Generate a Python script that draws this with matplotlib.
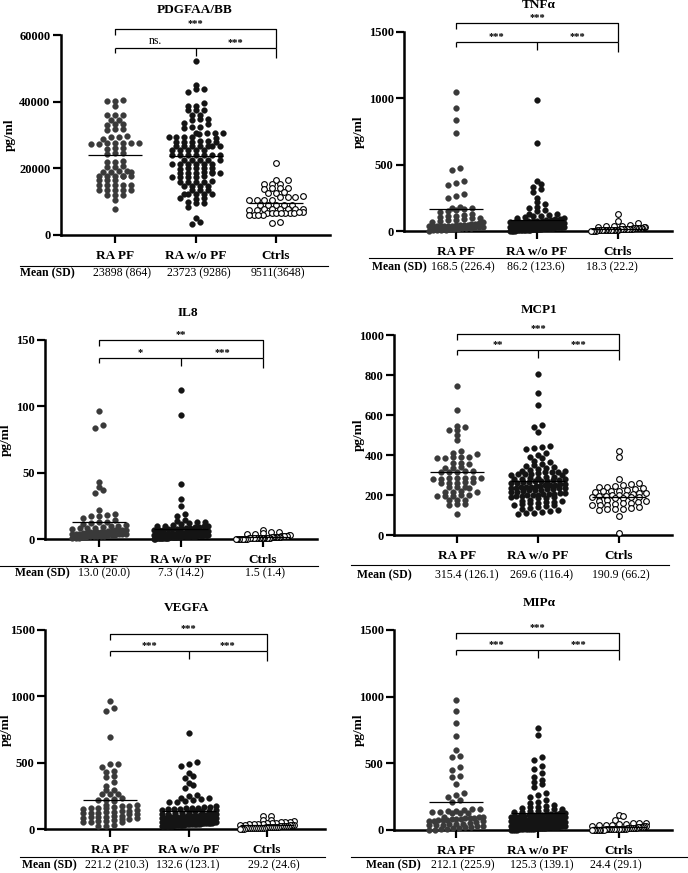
import numpy as np
import matplotlib
matplotlib.use("Agg")
import matplotlib.pyplot as plt
from matplotlib.lines import Line2D

W, H = 688, 873
plt.rcParams['font.family'] = ['Liberation Serif', 'DejaVu Serif']

groups = ['RA PF', 'RA w/o PF', 'Ctrls']

# ---------------- data (pg/ml) ----------------
pdgf_pf = [40300, 40500, 40100, 38600, 36100, 36000, 35900, 34500, 34400, 33300, 33200, 33100,
           31800, 31700, 31600, 29600, 29500, 29400, 28900, 27600, 27500, 27500, 27400, 27500,
           27600, 27400, 26100, 26000, 25900, 24600, 24500, 24400, 22100, 22000, 21900, 20600,
           20500, 20400, 19100, 19000, 19000, 18900, 19100, 17800, 17700, 17600, 17700, 17800,
           17600, 16600, 16500, 16400, 15100, 15000, 15000, 14900, 15100, 13600, 13500, 13500,
           13400, 13600, 12100, 12000, 11900, 10500, 7700]
pdgf_nopf = [52300, 45000, 43900, 43700, 43000, 39700, 38800, 38600, 37600, 37500, 37400, 36100,
             35900, 34800, 34700, 34600, 33600, 33400, 32400, 32300, 32200, 30600, 30500, 30500,
             30400, 30500, 29400, 29300, 29300, 29200, 29300, 28100, 28000, 28000, 27900, 28000,
             28100, 26800, 26700, 26700, 26600, 26700, 26800, 26600, 25600, 25500, 25500, 25400,
             25500, 24100, 24000, 24000, 23900, 24000, 24100, 23900, 22600, 22500, 22500, 22400,
             22500, 21400, 21300, 21300, 21200, 21300, 21400, 20100, 20000, 20000, 19900, 20000,
             18800, 18700, 18700, 18600, 18700, 18800, 18600, 17600, 17500, 17500, 17400, 17500,
             16100, 16000, 16000, 15900, 16000, 14800, 14700, 14700, 14600, 13600, 13500, 13400,
             12400, 12300, 12300, 12200, 12300, 11100, 11000, 10900, 9800, 9700, 9600, 8500,
             5000, 4000, 3300]
pdgf_ctrl = [21700, 16600, 16400, 15400, 15300, 15200, 14100, 14000, 13900, 14000, 12800, 12700,
             12600, 11600, 11500, 11400, 11500, 10600, 10500, 10400, 10500, 9100, 9000, 8900,
             9000, 9100, 7800, 7700, 7700, 7600, 7700, 7800, 7600, 7700, 6800, 6700, 6700, 6600,
             6700, 6800, 6600, 6700, 6700, 6100, 6000, 5900, 6000, 4000, 3500]

tnf_pf = [1050, 925, 840, 735, 475, 460, 380, 365, 350, 280, 265, 250, 180, 175, 170, 165, 160,
          150, 140, 125, 120, 115, 110, 105, 100, 95, 90, 85, 80, 75, 70, 65, 60, 55, 50, 48, 45,
          45, 42, 40, 40, 38, 38, 36, 35, 35, 33, 30, 28, 25, 22, 20, 18, 15, 12, 10, 8, 6, 5, 3]
tnf_nopf = [985, 660, 375, 355, 335, 315, 295, 250, 215, 200, 180, 170, 160, 150, 130, 125, 120,
            115, 110, 105, 98, 95, 93, 88, 86, 84, 79, 78, 75, 74, 71, 70, 66, 65, 63, 62, 60, 58,
            57, 56, 55, 54, 53, 52, 51, 50, 50, 49, 48, 47, 46, 45, 45, 44, 43, 42, 42, 41, 40, 40,
            39, 38, 38, 37, 36, 36, 35, 35, 34, 33, 33, 32, 31, 30, 30, 29, 28, 27, 26, 25, 24, 23,
            22, 21, 20, 19, 18, 17, 16, 15, 14, 13, 12, 11, 10, 9, 8, 7, 6, 5, 5, 4, 4, 3, 3, 2, 2]
tnf_ctrl = [130, 75, 60, 45, 40, 38, 35, 32, 30, 28, 26, 25, 24, 22, 21, 20, 19, 18, 17, 16, 15,
            15, 14, 13, 12, 12, 11, 10, 10, 9, 9, 8, 8, 7, 7, 6, 6, 5, 5, 4, 4, 3, 3, 2, 1]

il8_pf = [96.5, 86, 83.5, 43, 39.5, 37, 34.5, 21.5, 19, 18, 17.5, 17, 16, 14, 13, 12.5, 12, 11,
          10.5, 10, 9.5, 9, 8.5, 8, 8, 7.5, 7, 7, 6.5, 6.5, 6, 6, 5.5, 5.5, 5, 5, 5, 4.5, 4.5, 4,
          4, 4, 3.5, 3.5, 3.5, 3, 3, 3, 2.5, 2.5, 2, 2, 2, 1.5, 1.5, 1, 1, 0.5]
il8_nopf = [112.5, 93.5, 41.5, 30, 25, 19, 17, 14, 13.5, 13, 12.5, 12, 11, 10.5, 10, 10, 9.5, 9.5,
            9, 9, 8.5, 8.2, 8, 7.8, 7.5, 7.2, 7, 6.8, 6.5, 6.3, 6, 6, 5.8, 5.6, 5.5, 5.3, 5, 5,
            4.8, 4.7, 4.5, 4.4, 4.2, 4.1, 4, 4, 3.9, 3.8, 3.7, 3.6, 3.5, 3.5, 3.4, 3.3, 3.2, 3.1,
            3, 3, 3, 2.9, 2.8, 2.7, 2.6, 2.5, 2.5, 2.4, 2.3, 2.2, 2.1, 2, 2, 2, 1.9, 1.8, 1.7, 1.6,
            1.5, 1.5, 1.4, 1.3, 1.2, 1.1, 1, 1, 1, 0.9, 0.8, 0.7, 0.6, 0.5, 0.5, 0.4, 0.3, 0.2,
            3.6, 3.2, 2.8, 2.4, 4.3, 5.1, 2.6, 1.7, 3.8, 4.6, 2.2, 1.3]
il8_ctrl = [7, 5.5, 5, 4.5, 4, 3.5, 3, 3, 2.5, 2.5, 2, 2, 2, 1.8, 1.6, 1.5, 1.5, 1.4, 1.3, 1.2,
            1.1, 1, 1, 1, 0.9, 0.8, 0.8, 0.7, 0.7, 0.6, 0.6, 0.5, 0.5, 0.5, 0.4, 0.4, 0.3, 0.3,
            0.3, 0.2, 0.2, 0.2, 0.1, 0.1, 0.1]

mcp_pf = [747, 625, 545, 540, 527, 523, 500, 475, 420, 410, 405, 390, 388, 386, 389, 387, 360,
          358, 356, 338, 336, 337, 318, 317, 316, 318, 315, 285, 284, 283, 282, 283, 284, 282,
          263, 262, 261, 262, 263, 240, 238, 237, 238, 218, 217, 216, 217, 198, 197, 196, 197,
          198, 176, 175, 174, 154, 153, 152, 103]
mcp_nopf = [803, 708, 650, 550, 542, 513, 445, 441, 436, 430, 412, 401, 392, 386, 371, 363, 356,
            349, 346, 339, 334, 331, 326, 322, 320, 317, 315, 313, 309, 307, 305, 303, 301, 299,
            291, 288, 286, 284, 282, 279, 278, 276, 273, 271, 270, 268, 266, 264, 261, 258, 256,
            255, 252, 250, 249, 246, 244, 242, 241, 239, 237, 236, 234, 233, 231, 229, 227, 225,
            224, 222, 216, 214, 211, 209, 207, 206, 203, 201, 199, 198, 195, 193, 192, 189, 187,
            185, 176, 172, 169, 167, 163, 160, 158, 154, 151, 148, 146, 142, 134, 129, 124, 121,
            116, 112, 108, 104]
mcp_ctrl = [418, 390, 280, 258, 255, 250, 245, 242, 238, 235, 228, 225, 222, 220, 218, 215, 212,
            210, 205, 202, 200, 198, 196, 194, 192, 190, 188, 186, 185, 175, 172, 168, 165, 162,
            158, 155, 152, 150, 148, 140, 135, 132, 130, 128, 125, 97, 8]

vegf_pf = [965, 910, 893, 696, 492, 488, 470, 435, 430, 398, 392, 357, 327, 296, 294, 266, 264,
           262, 232, 228, 222, 215, 210, 182, 178, 175, 170, 165, 160, 158, 155, 150, 140, 137,
           134, 130, 127, 124, 120, 117, 114, 110, 100, 97, 94, 90, 87, 84, 80, 77, 74, 70, 62,
           58, 55, 52, 50, 30, 25, 20]
vegf_nopf = [720, 505, 490, 475, 420, 400, 385, 350, 330, 310, 255, 245, 235, 230, 225, 218, 212,
             206, 200, 172, 168, 165, 161, 158, 155, 152, 150, 147, 145, 142, 139, 136, 133, 130,
             120, 118, 116, 114, 112, 110, 108, 106, 104, 102, 100, 99, 97, 95, 93, 92, 90, 88,
             87, 85, 84, 82, 80, 79, 77, 76, 74, 73, 72, 71, 70, 68, 66, 65, 63, 62, 60, 59, 58,
             56, 55, 54, 52, 51, 50, 49, 48, 47, 46, 45, 44, 43, 42, 41, 40, 40, 39, 38, 37, 36,
             35, 34, 33, 32, 31, 30, 29, 28, 27, 26, 25, 24, 23, 22, 21, 20]
vegf_ctrl = [100, 98, 70, 65, 60, 55, 52, 50, 48, 45, 43, 40, 38, 36, 35, 33, 32, 30, 28, 27, 25,
             24, 22, 20, 19, 18, 17, 16, 15, 14, 13, 12, 11, 10, 10, 9, 8, 7, 6, 5, 5, 4, 3, 2, 1]

mip_pf = [975, 892, 800, 705, 600, 552, 548, 475, 450, 402, 398, 343, 275, 262, 250, 225, 212,
          160, 155, 150, 145, 140, 138, 135, 130, 128, 125, 100, 97, 95, 92, 90, 88, 85, 82, 80,
          77, 75, 72, 70, 67, 65, 62, 50, 47, 45, 42, 40, 37, 35, 30, 27, 25, 20, 15, 12, 10, 6,
          3, 1]
mip_nopf = [765, 712, 550, 525, 480, 455, 430, 400, 375, 360, 345, 325, 275, 262, 250, 225, 210,
            200, 190, 182, 175, 170, 165, 160, 155, 150, 145, 140, 135, 132, 128, 125, 122, 119,
            117, 115, 113, 111, 109, 107, 105, 103, 101, 99, 97, 95, 93, 91, 89, 88, 86, 84, 83,
            81, 80, 78, 77, 75, 74, 72, 71, 70, 60, 58, 57, 55, 54, 52, 51, 50, 48, 47, 46, 44,
            43, 42, 40, 39, 38, 36, 35, 34, 32, 31, 30, 28, 27, 26, 24, 23, 22, 20, 19, 18, 16,
            15, 14, 12, 11, 10, 9, 8, 7, 6, 5, 4, 3, 2, 1, 0]
mip_ctrl = [112, 105, 75, 55, 52, 50, 48, 45, 40, 38, 35, 32, 30, 28, 25, 23, 22, 20, 18, 17, 15,
            14, 13, 12, 11, 10, 10, 9, 8, 8, 7, 6, 6, 5, 5, 4, 4, 3, 3, 2, 2, 1, 1, 1, 0]

titles = ['PDGFAA/BB', 'TNFα', 'IL8', 'MCP1', 'VEGFA', 'MIPα']
datasets = [(pdgf_pf, pdgf_nopf, pdgf_ctrl), (tnf_pf, tnf_nopf, tnf_ctrl),
            (il8_pf, il8_nopf, il8_ctrl), (mcp_pf, mcp_nopf, mcp_ctrl),
            (vegf_pf, vegf_nopf, vegf_ctrl), (mip_pf, mip_nopf, mip_ctrl)]
means = [(23898, 23723, 9511), (168.5, 86.2, 18.3), (13.0, 7.3, 1.5),
         (315.4, 269.6, 190.9), (221.2, 132.6, 29.2), (212.1, 125.3, 24.4)]
mean_text = [('23898 (864)', '23723 (9286)', '9511(3648)'),
             ('168.5 (226.4)', '86.2 (123.6)', '18.3 (22.2)'),
             ('13.0 (20.0)', '7.3 (14.2)', '1.5 (1.4)'),
             ('315.4 (126.1)', '269.6 (116.4)', '190.9 (66.2)'),
             ('221.2 (210.3)', '132.6 (123.1)', '29.2 (24.6)'),
             ('212.1 (225.9)', '125.3 (139.1)', '24.4 (29.1)')]
yticks = [[0, 20000, 40000, 60000], [0, 500, 1000, 1500], [0, 50, 100, 150],
          [0, 200, 400, 600, 800, 1000], [0, 500, 1000, 1500], [0, 500, 1000, 1500]]
sig = [('***', 'ns.', '***'), ('***', '***', '***'), ('**', '*', '***'),
       ('***', '**', '***'), ('***', '***', '***'), ('***', '***', '***')]

# ---------------- layout in pixels ----------------
layout = [
    dict(rect=(61, 35, 330, 235), cats=(115, 195, 276), title=(195, 10), ylab=10,
         sep=(20, 328, 266), row=273, mlab=20, vals=(122, 199, 278), br=(29, 48)),
    dict(rect=(404, 32, 672, 231), cats=(456, 538, 618), title=(539, 5), ylab=359,
         sep=(369, 672, 258), row=267, mlab=372, vals=(463, 536, 612), br=(22.7, 41.7)),
    dict(rect=(45, 340, 317, 539), cats=(99, 182, 263), title=(188, 313), ylab=6,
         sep=(0, 318, 566), row=573, mlab=15, vals=(104, 181, 265), br=(340, 358)),
    dict(rect=(394, 335, 672, 535), cats=(457, 537, 619), title=(539, 310), ylab=359,
         sep=(351, 669, 565), row=575, mlab=357, vals=(467, 542, 621), br=(334, 350)),
    dict(rect=(45, 630, 325, 829), cats=(110, 188, 267), title=(187, 608), ylab=6,
         sep=(20, 325, 857), row=865, mlab=22, vals=(117, 188, 274), br=(634, 651)),
    dict(rect=(394, 630, 672, 830), cats=(456, 539, 619), title=(539, 603), ylab=359,
         sep=(351, 687, 857), row=865, mlab=366, vals=(463, 542, 616), br=(633, 650)),
]

face = ['#3a3a3a', '#141414', 'white']
DOT_DX, ROW_H, HALF = 8.0, 4.0, 27.0


def swarm_offsets(vals, ky):
    # graphpad-like rows: group values within ROW_H pixels, spread them sideways
    v = np.asarray(vals, float)
    order = np.argsort(v)
    off = np.zeros(len(v))
    rows, cur, start = [], [], 0.0
    for i in order:
        p = v[i] * ky
        if cur and p - start > ROW_H:
            rows.append(cur)
            cur = []
        if not cur:
            start = p
        cur.append(i)
    rows.append(cur)
    for r in rows:
        n = len(r)
        if n > 1:
            step = min(DOT_DX, 2 * HALF / (n - 1))
            off[r] = (np.arange(n) - (n - 1) / 2) * step
    return off


def fx(x):
    return x / W


def fy(y):
    return 1 - y / H


fig = plt.figure(figsize=(W / 100, H / 100), dpi=100)

for k in range(6):
    L = layout[k]
    l, t, r, b = L['rect']
    ax = fig.add_axes([fx(l), fy(b), (r - l) / W, (b - t) / H])
    c0, c1, c2 = L['cats']
    s = (c2 - c0) / 2
    ymax = yticks[k][-1]
    ky = (b - t) / ymax
    ax.set_xlim((l - c0) / s, (r - c0) / s)
    ax.set_ylim(0, ymax)

    for g in range(3):
        vals = datasets[k][g]
        xs = g + swarm_offsets(vals, ky) / s
        if g == 2:
            ax.scatter(xs, vals, s=17, facecolor='white', edgecolor='black',
                       linewidths=0.8, zorder=3, clip_on=False)
        else:
            ax.scatter(xs, vals, s=17, facecolor=face[g], edgecolor=face[g],
                       linewidths=0.3, zorder=3, clip_on=False)
        ax.plot([g - HALF / s, g + HALF / s], [means[k][g]] * 2, color='black',
                lw=0.9, zorder=4, solid_capstyle='butt')

    for side in ['top', 'right']:
        ax.spines[side].set_visible(False)
    for side in ['left', 'bottom']:
        ax.spines[side].set_linewidth(1.8)
    ax.set_yticks(yticks[k])
    ax.set_yticklabels([str(v) for v in yticks[k]], fontweight='bold', fontsize=9)
    ax.set_xticks([0, 1, 2])
    ax.set_xticklabels(groups, fontweight='bold', fontsize=9.5)
    ax.tick_params(axis='both', length=5.5, width=1.6, direction='out')
    ax.tick_params(axis='x', pad=5)
    ax.tick_params(axis='y', pad=2)

    # significance brackets
    top_px, low_px = L['br']
    ytop = (b - top_px) / ky
    ylow = (b - low_px) / ky
    d = 6 / ky
    kw = dict(color='black', lw=0.9, clip_on=False, solid_capstyle='butt')
    ax.plot([0, 0, 2, 2], [ytop - d, ytop, ytop, ylow], **kw)
    ax.plot([0, 2], [ylow, ylow], **kw)
    ax.plot([0, 0], [ylow, ylow - 5 / ky], **kw)
    ax.plot([1, 1], [ylow, ylow - 8 / ky], **kw)
    ax.plot([2, 2], [ylow, ylow - 10 / ky], **kw)
    s_top, s01, s12 = sig[k]
    ax.text(1, ytop + 1 / ky, s_top, ha='center', va='bottom', fontsize=7.5,
            fontweight='bold', clip_on=False)
    for xm, lab in ((0.5, s01), (1.5, s12)):
        wt = 'normal' if lab == 'ns.' else 'bold'
        fs = 8.5 if lab == 'ns.' else 7.5
        ax.text(xm, ylow + 1 / ky, lab, ha='center', va='bottom', fontsize=fs,
                fontweight=wt, clip_on=False)

    # title, y label
    fig.text(fx(L['title'][0]), fy(L['title'][1]), titles[k], ha='center', va='center',
             fontsize=9.5, fontweight='bold')
    fig.text(fx(L['ylab']), fy((t + b) / 2), 'pg/ml', rotation=90, ha='center',
             va='center', fontsize=9.5, fontweight='bold')

    # mean (SD) row
    x0, x1, ys = L['sep']
    fig.add_artist(Line2D([fx(x0), fx(x1)], [fy(ys), fy(ys)], color='black', lw=0.8,
                          transform=fig.transFigure))
    fig.text(fx(L['mlab']), fy(L['row']), 'Mean (SD)', ha='left', va='center',
             fontsize=8.5, fontweight='bold')
    for g in range(3):
        fig.text(fx(L['vals'][g]), fy(L['row']), mean_text[k][g], ha='center',
                 va='center', fontsize=8.5)

fig.savefig('out.png', dpi=100)
